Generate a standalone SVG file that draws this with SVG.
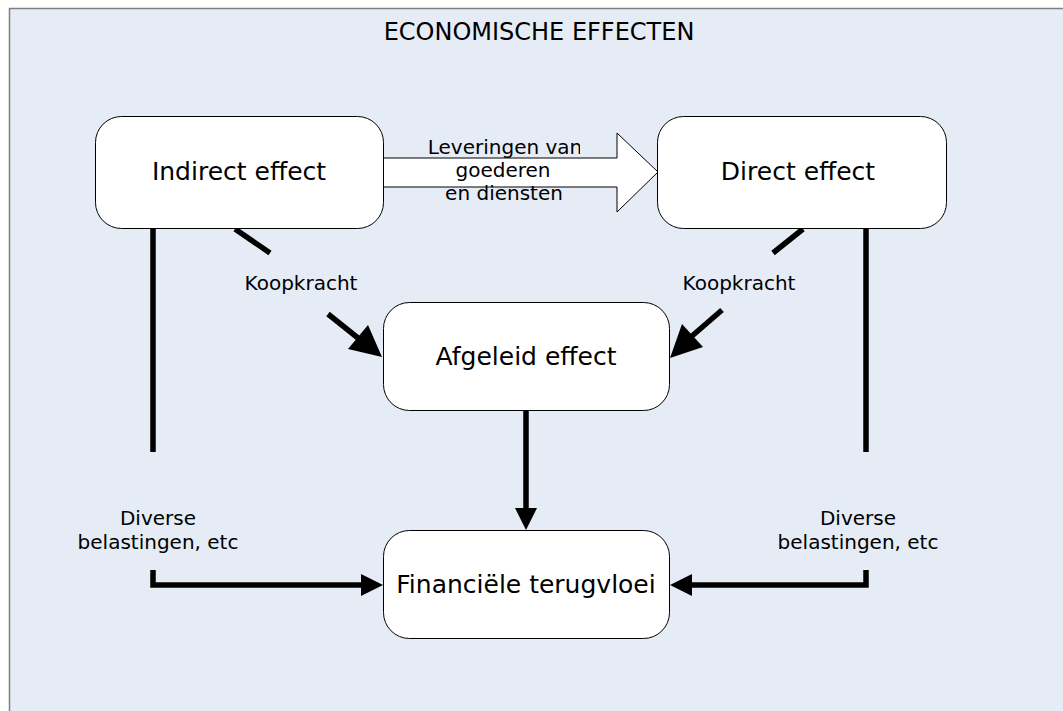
<svg xmlns="http://www.w3.org/2000/svg" width="1063" height="711" viewBox="0 0 1063 711">
<defs>
<style>
.bg{fill:#e6ecf6;stroke:#7f7f7f;stroke-width:1.5}
.node{fill:#ffffff;stroke:#000000;stroke-width:1}
.t{font-family:"DejaVu Sans",Verdana,sans-serif;fill:#000;text-anchor:middle}
.big{font-size:25px}
.small{font-size:20px}
.conn{fill:none;stroke:#000;stroke-width:5.5}
</style>
<clipPath id="clipLev"><rect x="380" y="130" width="200" height="80"/></clipPath>
</defs>
<rect class="bg" x="9.5" y="8.5" width="1070" height="720"/>
<text class="t" x="539" y="40" style="font-size:24px">ECONOMISCHE EFFECTEN</text>

<g id="connectors">
<path class="conn" d="M235,229 L270,253"/>
<path class="conn" d="M328,314 L358,338"/>
<path d="M348,349 L382,357 L368,325 Z" fill="#000"/>
<path class="conn" d="M803,229 L773,253"/>
<path class="conn" d="M722,310 L692,336"/>
<path d="M682,324 L670,358 L703,347 Z" fill="#000"/>
<path class="conn" d="M153,228 L153,452"/>
<path class="conn" d="M153,570 L153,585 L365,585"/>
<path d="M361,574 L383,585 L361,596 Z" fill="#000"/>
<path class="conn" d="M866,228 L866,452"/>
<path class="conn" d="M866,570 L866,585 L690,585"/>
<path d="M692,574 L670,585 L692,596 Z" fill="#000"/>
<path class="conn" d="M526,410 L526,510"/>
<path d="M515,508 L526,530 L537,508 Z" fill="#000"/>
<path d="M383,158 L617,158 L617,133 L658,172 L617,212 L617,187 L383,187 Z" fill="#fff" stroke="#000" stroke-width="1"/>
<text class="t small" x="505" y="154" clip-path="url(#clipLev)">Leveringen van</text>
<text class="t small" x="503" y="177">goederen</text>
<text class="t small" x="504" y="200">en diensten</text>
<text class="t small" x="301" y="290">Koopkracht</text>
<text class="t small" x="739" y="290">Koopkracht</text>
<text class="t small" x="158" y="525">Diverse</text>
<text class="t small" x="158" y="549">belastingen, etc</text>
<text class="t small" x="858" y="525">Diverse</text>
<text class="t small" x="858" y="549">belastingen, etc</text>
</g>

<g id="node-indirect">
<rect class="node" x="95.5" y="116.5" width="288" height="112" rx="26"/>
<text class="t big" x="239" y="180">Indirect effect</text>
</g>
<g id="node-direct">
<rect class="node" x="657.5" y="116.5" width="289" height="112" rx="26"/>
<text class="t big" x="798" y="180">Direct effect</text>
</g>
<g id="node-afgeleid">
<rect class="node" x="383.5" y="302.5" width="286" height="108" rx="26"/>
<text class="t big" x="526" y="365">Afgeleid effect</text>
</g>
<g id="node-financiele">
<rect class="node" x="383.5" y="530.5" width="286" height="108" rx="26"/>
<text class="t big" x="526" y="593">Financiële terugvloei</text>
</g>
</svg>
